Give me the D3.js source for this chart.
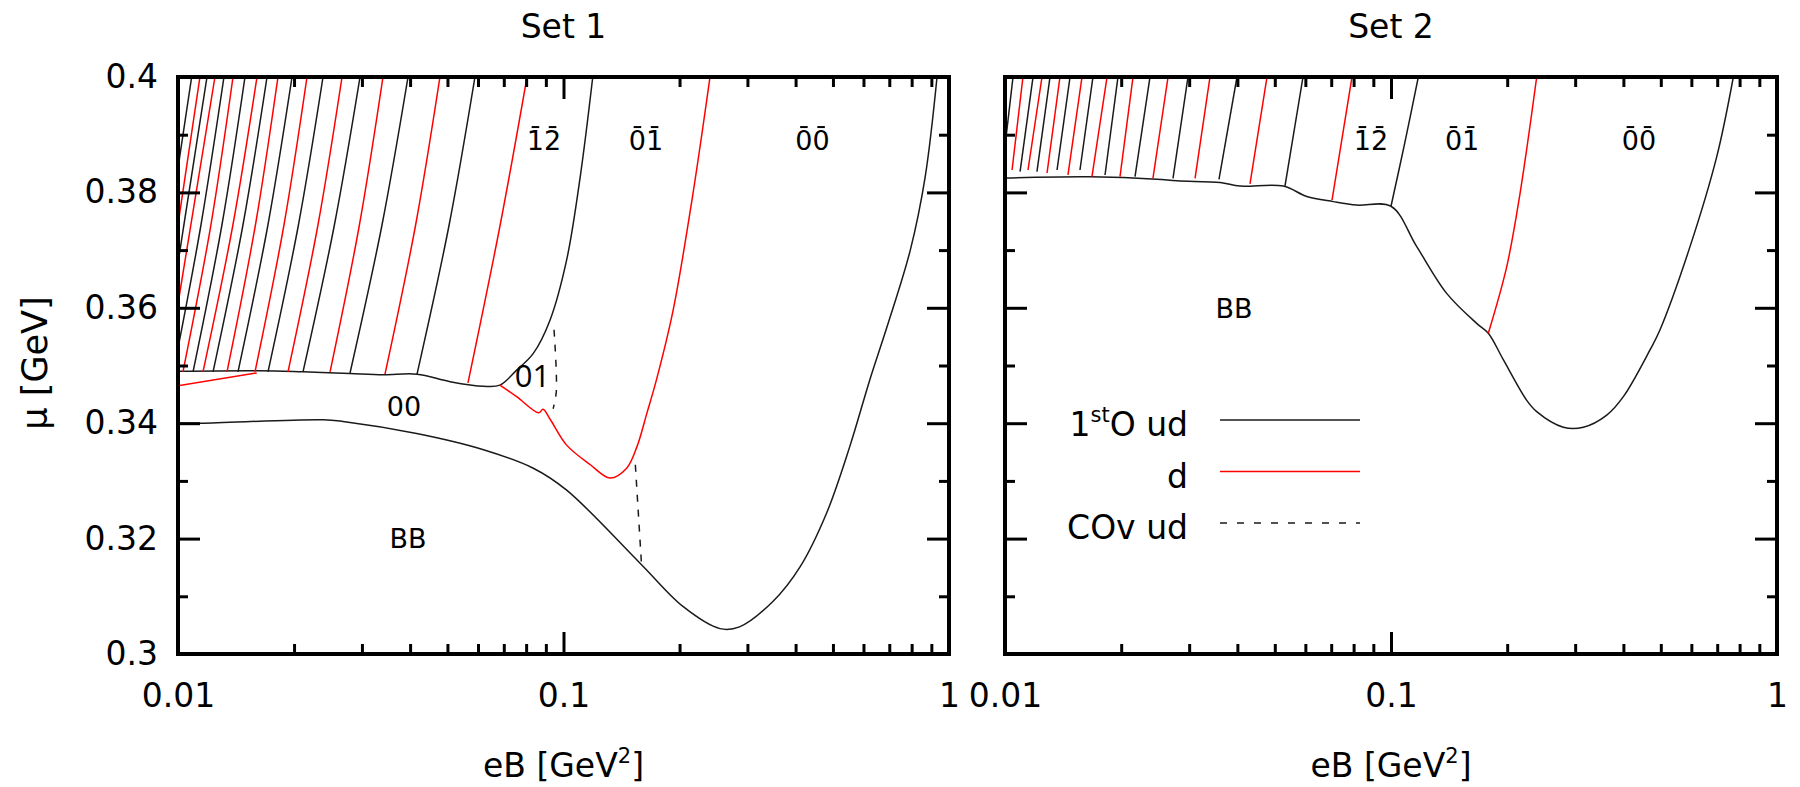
<!DOCTYPE html>
<html>
<head>
<meta charset="utf-8">
<script src="https://cdn.jsdelivr.net/npm/d3@7"></script>
<style>
  body { margin: 0; background: #fff; }
  text { font-family: "DejaVu Sans", sans-serif; fill: #000; }
</style>
</head>
<body>
<svg id="chart" width="1800" height="787"></svg>
<script>
// Phase diagram mu vs eB, two parameter sets (log x axis)

// ---- ticks ----
const eBMajor = [0.01, 0.1, 1];
const eBMinor = [0.02, 0.03, 0.04, 0.05, 0.06, 0.07, 0.08, 0.09, 0.2, 0.3, 0.4, 0.5, 0.6, 0.7, 0.8, 0.9];
const muMajor = [0.3, 0.32, 0.34, 0.36, 0.38, 0.4];
const muMinor = [0.31, 0.33, 0.35, 0.37, 0.39];

// ---- Set 1 ----
// lower 1st order boundary (BB / 00, then BB / 0-bar 0-bar)
const set1Lower = [[0.01, 0.3400], [0.0115, 0.3400], [0.0238, 0.3406], [0.0268, 0.3403], [0.0416, 0.3382],
  [0.062, 0.3354], [0.0835, 0.3322], [0.1019, 0.3284], [0.1582, 0.3157], [0.2045, 0.3082],
  [0.2546, 0.3044], [0.2861, 0.3047], [0.3492, 0.3091], [0.4108, 0.3151], [0.4812, 0.3244], [0.5525, 0.3359],
  [0.623, 0.3475], [0.6906, 0.3567], [0.7936, 0.3700], [0.8674, 0.3827], [0.931, 0.4]];
// upper 1st order boundary (00 / Landau levels, then 01 / 0-bar 1-bar)
const set1Upper = [[0.01, 0.3490], [0.0163, 0.3491], [0.0211, 0.3489], [0.0279, 0.3486], [0.0341, 0.3484],
  [0.0417, 0.3485], [0.0508, 0.3472], [0.062, 0.3464], [0.0684, 0.3466], [0.0756, 0.3492], [0.0835, 0.3521],
  [0.0923, 0.3579], [0.1019, 0.3683], [0.1105, 0.3827], [0.1191, 0.4]];
// d transitions
const set1RedLow = [[0.0684, 0.3466], [0.0756, 0.3446], [0.0862, 0.3418], [0.0885, 0.3424], [0.0925, 0.3406],
  [0.1019, 0.3362], [0.1174, 0.3328], [0.1321, 0.3305], [0.1458, 0.3322], [0.155, 0.3359], [0.1645, 0.3417],
  [0.1742, 0.3475], [0.1925, 0.3596], [0.2167, 0.3798], [0.2399, 0.4]];
const set1RedLeft = [[0.01, 0.3465], [0.016, 0.3487]];
// crossovers
const set1Dash1 = [[0.0945, 0.3562], [0.0958, 0.3455], [0.0940, 0.3425]];
const set1Dash2 = [[0.1536, 0.3328], [0.1593, 0.3157]];
// Landau level transitions (k = ud 1st order, r = d)
const set1Levels = [
  ['r', [[0.05652, 0.3470], [0.0685, 0.37435], [0.08042, 0.4]]],
  ['k', [[0.04169, 0.3485], [0.0505, 0.37435], [0.05893, 0.4]]],
  ['r', [[0.03443, 0.3485], [0.04134, 0.37435], [0.04781, 0.4]]],
  ['k', [[0.02794, 0.3487], [0.03382, 0.37435], [0.03951, 0.4]]],
  ['r', [[0.0248, 0.3489], [0.02955, 0.37435], [0.03402, 0.4]]],
  ['k', [[0.0211, 0.3489], [0.02545, 0.37435], [0.02966, 0.4]]],
  ['r', [[0.01929, 0.3489], [0.02307, 0.37435], [0.02664, 0.4]]],
  ['k', [[0.01712, 0.3489], [0.02053, 0.37435], [0.02378, 0.4]]],
  ['r', [[0.01584, 0.3489], [0.01883, 0.37435], [0.02161, 0.4]]],
  ['k', [[0.01431, 0.3489], [0.01711, 0.37435], [0.01976, 0.4]]],
  ['r', [[0.0134, 0.3489], [0.01588, 0.37435], [0.01817, 0.4]]],
  ['k', [[0.01233, 0.3489], [0.01474, 0.37435], [0.01702, 0.4]]],
  ['r', [[0.01161, 0.3489], [0.01388, 0.37435], [0.01603, 0.4]]],
  ['k', [[0.01094, 0.3489], [0.013, 0.37435], [0.01492, 0.4]]],
  ['r', [[0.0103, 0.3489], [0.01217, 0.37435], [0.01389, 0.4]]],
  ['k', [[0.01, 0.3530], [0.01147, 0.37435], [0.01316, 0.4]]],
  ['r', [[0.01, 0.3607], [0.01247, 0.4]]],
  ['k', [[0.01, 0.3678], [0.01189, 0.4]]],
  ['r', [[0.01, 0.3744], [0.0114, 0.4]]],
  ['k', [[0.01, 0.3842], [0.01085, 0.4]]]
];
const set1Labels = [
  { t: '12', bar: true, eB: 0.089, mu: 0.3873 },
  { t: '01', bar: true, eB: 0.1637, mu: 0.3873 },
  { t: '00', bar: true, eB: 0.4425, mu: 0.3873 },
  { t: '01', bar: false, alt: true, eB: 0.0831, mu: 0.3462 },
  { t: '00', bar: false, eB: 0.03857, mu: 0.34125 },
  { t: 'BB', bar: false, eB: 0.03951, mu: 0.31837 }
];

// ---- Set 2 ----
const set2Boundary = [[0.01, 0.3825], [0.0166, 0.3827], [0.0247, 0.3823], [0.0279, 0.3820], [0.0361, 0.3817],
  [0.0406, 0.3811], [0.0526, 0.3811], [0.0605, 0.3793], [0.0709, 0.3784], [0.0815, 0.3778], [0.1, 0.3776],
  [0.1166, 0.3706], [0.1394, 0.3625], [0.1667, 0.3573], [0.1787, 0.3556], [0.1954, 0.3510], [0.2245, 0.3440],
  [0.2385, 0.3420], [0.2795, 0.3393], [0.315, 0.3393], [0.3622, 0.3414], [0.3999, 0.3446], [0.4688, 0.3527],
  [0.4977, 0.3562], [0.5952, 0.3706], [0.6981, 0.3862], [0.7707, 0.4]];
const set2Black = [[0.1, 0.3776], [0.1085, 0.3885], [0.1177, 0.4]];
const set2Red = [[0.1787, 0.3556], [0.1994, 0.3671], [0.2159, 0.3798], [0.2385, 0.4]];
const set2Levels = [
  ['r', [[0.07034, 0.37868], [0.07925, 0.4]]],
  ['k', [[0.05314, 0.38111], [0.05916, 0.4]]],
  ['r', [[0.04312, 0.38146], [0.04773, 0.4]]],
  ['k', [[0.03584, 0.38227], [0.0399, 0.4]]],
  ['r', [[0.03107, 0.38244], [0.03397, 0.4]]],
  ['k', [[0.02724, 0.38244], [0.02979, 0.4]]],
  ['r', [[0.02417, 0.38244], [0.02645, 0.4]]],
  ['k', [[0.02172, 0.38272], [0.02375, 0.4]]],
  ['r', [[0.01986, 0.38272], [0.02146, 0.4]]],
  ['k', [[0.01816, 0.38302], [0.01962, 0.4]]],
  ['r', [[0.0168, 0.38272], [0.01838, 0.4]]],
  ['k', [[0.01564, 0.38388], [0.0169, 0.4]]],
  ['r', [[0.01456, 0.38302], [0.01583, 0.4]]],
  ['k', [[0.01364, 0.38388], [0.01474, 0.4]]],
  ['r', [[0.01285, 0.38336], [0.01388, 0.4]]],
  ['k', [[0.0121, 0.38359], [0.01308, 0.4]]],
  ['r', [[0.01147, 0.38388], [0.01247, 0.4]]],
  ['k', [[0.01094, 0.38359], [0.01182, 0.4]]],
  ['r', [[0.01043, 0.38388], [0.01113, 0.4]]],
  ['k', [[0.01, 0.388], [0.01049, 0.4]]]
];
const set2Labels = [
  { t: '12', bar: true, eB: 0.08876, mu: 0.3873 },
  { t: '01', bar: true, eB: 0.1528, mu: 0.3873 },
  { t: '00', bar: true, eB: 0.439, mu: 0.3873 },
  { t: 'BB', bar: false, eB: 0.0392, mu: 0.35823 }
];

const legendItems = [
  { main: '1', sup: 'st', rest: 'O ud', color: 'k', dash: false },
  { main: 'd', sup: '', rest: '', color: 'r', dash: false },
  { main: 'COv ud', sup: '', rest: '', color: 'k', dash: true }
];

// ---- layout ----
const plotTop = 77, plotBottom = 654;
const colors = { k: '#1a1a1a', r: '#ff0000' };

function series(lines, levels) {
  return lines.concat(levels.map(([c, pts]) => ({ pts, color: c, dash: false })));
}

const panels = [
  {
    title: 'Set 1', x0: 178, x1: 949, yLabels: true, labels: set1Labels,
    series: series([
      { pts: set1Lower, color: 'k' }, { pts: set1Upper, color: 'k' },
      { pts: set1RedLow, color: 'r' }, { pts: set1RedLeft, color: 'r' },
      { pts: set1Dash1, color: 'k', dash: true }, { pts: set1Dash2, color: 'k', dash: true }
    ], set1Levels)
  },
  {
    title: 'Set 2', x0: 1005, x1: 1777, yLabels: false, labels: set2Labels, legend: true,
    series: series([
      { pts: set2Boundary, color: 'k' }, { pts: set2Black, color: 'k' }, { pts: set2Red, color: 'r' }
    ], set2Levels)
  }
];

const svg = d3.select('#chart');
const fmt = d => String(+d.toFixed(2));

panels.forEach((p, i) => {
  const x = d3.scaleLog().domain([0.01, 1]).range([p.x0, p.x1]);
  const y = d3.scaleLinear().domain([0.3, 0.4]).range([plotBottom, plotTop]);
  const g = svg.append('g');

  g.append('clipPath').attr('id', 'clip' + i).append('rect')
    .attr('x', p.x0).attr('y', plotTop).attr('width', p.x1 - p.x0).attr('height', plotBottom - plotTop);

  const line = d3.line().x(d => x(d[0])).y(d => y(d[1])).curve(d3.curveCatmullRom.alpha(0.5));

  g.append('g').attr('clip-path', `url(#clip${i})`)
    .selectAll('path').data(p.series).join('path')
    .attr('d', d => line(d.pts))
    .attr('fill', 'none')
    .attr('stroke', d => colors[d.color])
    .attr('stroke-width', 1.5)
    .attr('stroke-dasharray', d => d.dash ? '7,8' : null);

  // axes with inward ticks on all four sides
  const axes = [
    [d3.axisBottom(x).tickValues(eBMajor).tickSize(-22).tickPadding(30).tickFormat(fmt), `translate(0,${plotBottom})`],
    [d3.axisBottom(x).tickValues(eBMinor).tickSize(-10).tickFormat(''), `translate(0,${plotBottom})`],
    [d3.axisTop(x).tickValues(eBMajor).tickSize(-22).tickFormat(''), `translate(0,${plotTop})`],
    [d3.axisTop(x).tickValues(eBMinor).tickSize(-10).tickFormat(''), `translate(0,${plotTop})`],
    [d3.axisLeft(y).tickValues(muMajor).tickSize(-22).tickPadding(20).tickFormat(p.yLabels ? fmt : ''), `translate(${p.x0},0)`],
    [d3.axisLeft(y).tickValues(muMinor).tickSize(-10).tickFormat(''), `translate(${p.x0},0)`],
    [d3.axisRight(y).tickValues(muMajor).tickSize(-22).tickFormat(''), `translate(${p.x1},0)`],
    [d3.axisRight(y).tickValues(muMinor).tickSize(-10).tickFormat(''), `translate(${p.x1},0)`]
  ];
  axes.forEach(([ax, tr]) => {
    const a = g.append('g').attr('transform', tr).call(ax);
    a.select('.domain').remove();
    a.attr('font-family', null).attr('font-size', null);
    a.selectAll('line').attr('stroke', '#000').attr('stroke-width', 3);
    a.selectAll('text').style('font-size', '33px');
  });

  g.append('rect')
    .attr('x', p.x0).attr('y', plotTop).attr('width', p.x1 - p.x0).attr('height', plotBottom - plotTop)
    .attr('fill', 'none').attr('stroke', '#000').attr('stroke-width', 4);

  // region labels
  p.labels.forEach(l => {
    const fs = l.alt ? 31 : 27;
    const t = g.append('text')
      .attr('x', x(l.eB)).attr('y', y(l.mu))
      .attr('text-anchor', 'middle')
      .style('font-size', fs + 'px')
      .style('font-family', l.alt ? '"Open Sans", sans-serif' : null)
      .text(l.t);
    if (l.bar) {
      const node = t.node();
      for (let k = 0; k < l.t.length; k++) {
        const e = node.getExtentOfChar(k);
        const cx = e.x + e.width / 2;
        g.append('line')
          .attr('x1', cx - fs * 0.14).attr('x2', cx + fs * 0.14)
          .attr('y1', y(l.mu) - fs * 0.86).attr('y2', y(l.mu) - fs * 0.86)
          .attr('stroke', '#000').attr('stroke-width', 2);
      }
    }
  });

  // title and x-axis title
  svg.append('text').attr('x', (p.x0 + p.x1) / 2).attr('y', 38)
    .attr('text-anchor', 'middle').style('font-size', '33px').text(p.title);
  const xt = svg.append('text').attr('x', (p.x0 + p.x1) / 2).attr('y', 777)
    .attr('text-anchor', 'middle').style('font-size', '33px');
  xt.append('tspan').text('eB [GeV');
  xt.append('tspan').attr('dy', -14).style('font-size', '21px').text('2');
  xt.append('tspan').attr('dy', 14).text(']');

  if (p.legend) {
    const lx0 = 1220, lx1 = 1360, ly0 = 420, step = 51.5;
    legendItems.forEach((it, k) => {
      const ly = ly0 + k * step;
      const t = svg.append('text').attr('x', 1188).attr('y', ly + 16)
        .attr('text-anchor', 'end').style('font-size', '33px');
      t.append('tspan').text(it.main);
      if (it.sup) {
        t.append('tspan').attr('dy', -14).style('font-size', '21px').text(it.sup);
        t.append('tspan').attr('dy', 14).text(it.rest);
      }
      svg.append('line').attr('x1', lx0).attr('x2', lx1).attr('y1', ly).attr('y2', ly)
        .attr('stroke', colors[it.color]).attr('stroke-width', 1.5)
        .attr('stroke-dasharray', it.dash ? '7,10' : null);
    });
  }
});

// y-axis title
svg.append('text')
  .attr('transform', 'translate(34,363) rotate(-90)')
  .attr('text-anchor', 'middle').attr('dy', '0.36em')
  .style('font-size', '35px')
  .text('μ [GeV]');
</script>
</body>
</html>
